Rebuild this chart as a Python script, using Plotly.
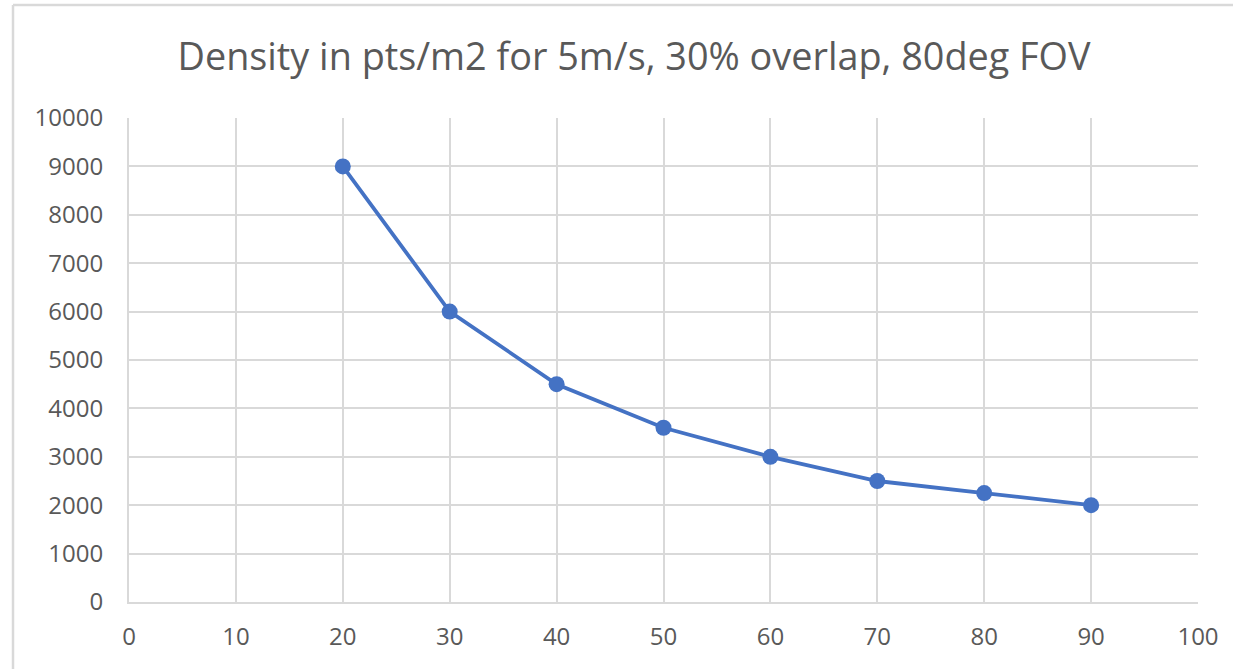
import plotly.graph_objects as go

# Data
speeds = [20, 30, 40, 50, 60, 70, 80, 90]
density = [9000, 6000, 4500, 3600, 3000, 2500, 2250, 2000]
x_ticks = [0, 10, 20, 30, 40, 50, 60, 70, 80, 90, 100]
y_ticks = [0, 1000, 2000, 3000, 4000, 5000, 6000, 7000, 8000, 9000, 10000]
y_tick_labels = [str(v) for v in y_ticks]
title_text = "Density in pts/m2 for 5m/s, 30% overlap, 80deg FOV"

W, H = 1233, 669
ML, MR, MT, MB = 129, 35, 118, 67
pw = W - ML - MR
ph = H - MT - MB

def px_x(p):
    return (p - ML) / pw

def px_y(p):
    return (H - MB - p) / ph

grid = "#d9d9d9"
txt = "#595959"
font_family = "Open Sans, Noto Sans, Liberation Sans, sans-serif"

fig = go.Figure()
fig.add_trace(go.Scatter(
    x=speeds, y=density, mode="lines+markers",
    line=dict(color="#4472C4", width=3.8),
    marker=dict(color="#4472C4", size=16),
    showlegend=False, hoverinfo="x+y",
))

fig.update_layout(
    width=W, height=H,
    margin=dict(l=ML, r=MR, t=MT, b=MB),
    paper_bgcolor="white", plot_bgcolor="white",
    title=dict(text=title_text, x=634 / W, xanchor="center",
               y=1 - 57 / H, yanchor="middle",
               font=dict(family=font_family, size=37.8, color=txt)),
    font=dict(family=font_family, color=txt),
    xaxis=dict(range=[0, 100], tickvals=x_ticks, showgrid=True, gridcolor=grid,
               gridwidth=2, zeroline=False, showline=True, linecolor=grid, linewidth=2,
               ticks="", tickfont=dict(size=24, color=txt), ticklabelstandoff=12,
               fixedrange=True),
    yaxis=dict(range=[0, 10000], tickvals=y_ticks, ticktext=y_tick_labels,
               showgrid=True, gridcolor=grid,
               gridwidth=2, zeroline=False, showline=True, linecolor=grid, linewidth=2,
               ticks="", tickfont=dict(size=24, color=txt), ticklabelstandoff=19,
               fixedrange=True),
    shapes=[
        dict(type="line", xref="paper", yref="paper", x0=px_x(13), x1=px_x(W + 5),
             y0=px_y(5), y1=px_y(5), line=dict(color=grid, width=2.5)),
        dict(type="line", xref="paper", yref="paper", x0=px_x(13), x1=px_x(13),
             y0=px_y(5), y1=px_y(H + 5), line=dict(color=grid, width=2.5)),
    ],
)

fig.write_html("out.html", config={"displayModeBar": False},
               post_script="document.body.style.margin='0';")
